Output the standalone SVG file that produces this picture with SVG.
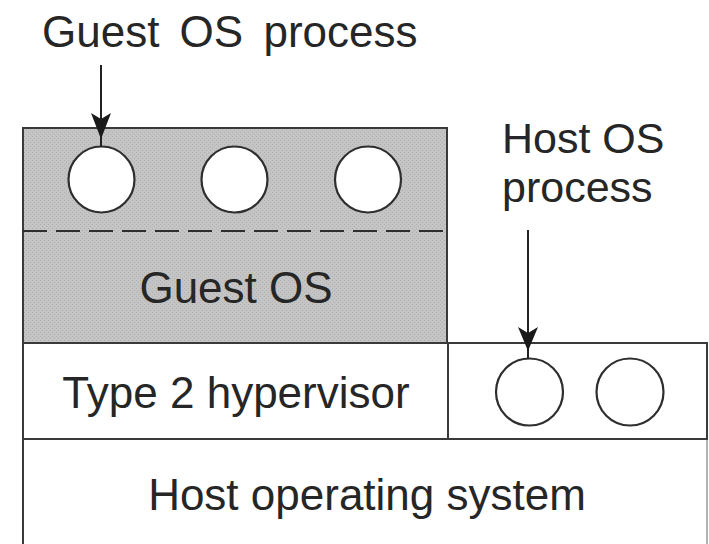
<svg xmlns="http://www.w3.org/2000/svg" width="709" height="544" viewBox="0 0 709 544">
  <defs>
    <style>
      .box { stroke: #3a3a3a; stroke-width: 2; }
      .plain { fill: #ffffff; }
      .proc { fill: #ffffff; stroke: #2e2e2e; stroke-width: 2.2; }
      .lbl { font-family: "Liberation Sans", Arial, sans-serif; fill: #262626; }
      .wire { stroke: #222; stroke-width: 2; fill: none; }
      .head { fill: #1a1a1a; }
    </style>
    <!-- fine stipple for the shaded guest layer -->
    <pattern id="stipple" width="4" height="4" patternUnits="userSpaceOnUse">
      <rect width="4" height="4" fill="#c4c4c4"/>
      <rect x="0" y="0" width="1" height="1" fill="#b0b0b0"/>
      <rect x="2" y="2" width="1" height="1" fill="#b0b0b0"/>
    </pattern>
  </defs>

  <rect width="709" height="544" fill="#ffffff"/>

  <!-- host operating system (bottom layer, open at the bottom edge) -->
  <g id="host-os">
    <path d="M23 439 H707" class="box" fill="none"/>
    <path d="M23 439 V544" class="box" fill="none"/>
    <path d="M707 439 V544" stroke="#9a9a9a" stroke-width="1.5" fill="none"/>
    <text class="lbl" x="367" y="510" font-size="44" text-anchor="middle">Host operating system</text>
  </g>

  <!-- type 2 hypervisor -->
  <g id="hypervisor">
    <rect x="23" y="343" width="425" height="96" class="box plain"/>
    <text class="lbl" x="236" y="408" font-size="44" text-anchor="middle">Type 2 hypervisor</text>
  </g>

  <!-- host processes area -->
  <g id="host-procs">
    <rect x="448" y="343" width="259" height="96" class="box plain"/>
    <circle id="host-proc-1" cx="529.5" cy="392" r="33.5" class="proc"/>
    <circle id="host-proc-2" cx="630" cy="392" r="33.5" class="proc"/>
  </g>

  <!-- guest OS with its processes -->
  <g id="guest-os">
    <rect x="23" y="128" width="424" height="215" class="box" fill="url(#stipple)"/>
    <line x1="23" y1="231" x2="447" y2="231" stroke="#2e2e2e" stroke-width="2" stroke-dasharray="24 9"/>
    <circle id="guest-proc-1" cx="101.5" cy="179.5" r="33" class="proc"/>
    <circle id="guest-proc-2" cx="234.5" cy="179.5" r="33" class="proc"/>
    <circle id="guest-proc-3" cx="368" cy="179.5" r="33" class="proc"/>
    <text class="lbl" x="236" y="303" font-size="44" text-anchor="middle">Guest OS</text>
  </g>

  <!-- callout labels -->
  <g id="label-guest-process">
    <text class="lbl" x="42" y="47" font-size="44" word-spacing="8">Guest OS process</text>
  </g>
  <g id="label-host-process">
    <text class="lbl" x="502" y="153" font-size="43">Host OS</text>
    <text class="lbl" x="502" y="202" font-size="43">process</text>
  </g>

  <!-- connectors -->
  <g id="connectors">
    <line x1="101" y1="65" x2="101" y2="147" class="wire"/>
    <polygon points="91,113 101,119 111,113 101,139" class="head"/>
    <line x1="528" y1="230" x2="528" y2="359" class="wire"/>
    <polygon points="518,327 528,333 538,327 528,351" class="head"/>
  </g>
</svg>
